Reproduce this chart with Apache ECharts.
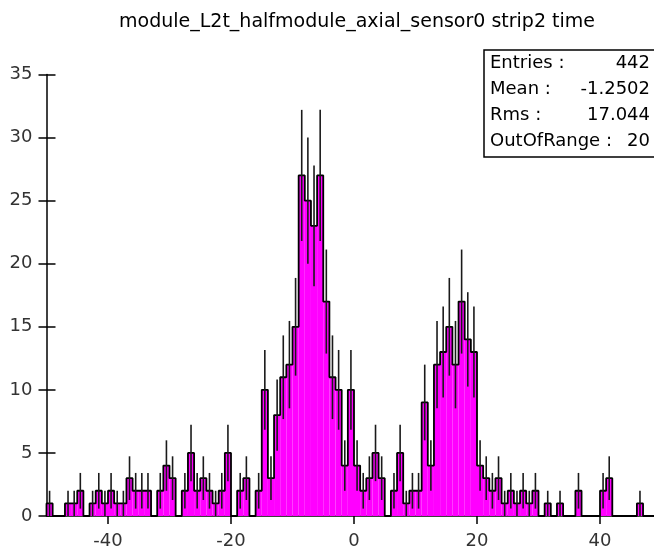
<!DOCTYPE html>
<html><head><meta charset="utf-8">
<script src="https://cdn.jsdelivr.net/npm/echarts@6/dist/echarts.min.js"></script>
<style>html,body{margin:0;padding:0;background:#fff;overflow:hidden;width:654px;height:550px}#c{width:760px;height:550px}</style>
</head><body><div id="c"></div>
<script>
const titleText = 'module_L2t_halfmodule_axial_sensor0 strip2 time';
const binStart = -50;
const binWidth = 1;
const counts = [
  1,0,0,1,1,2,0,1,2,1,
  2,1,1,3,2,2,2,0,2,4,
  3,0,2,5,2,3,2,1,2,5,
  0,2,3,0,2,10,3,8,11,12,
  15,27,25,23,27,17,11,10,4,10,
  4,2,3,5,3,0,2,5,1,2,
  2,9,4,12,13,15,12,17,14,13,
  4,3,2,3,1,2,1,2,1,2,
  0,1,0,1,0,0,2,0,0,0,
  2,3,0,0,0,0,1,0,0,0
];
const xTickValues = [-40, -20, 0, 20, 40];
const xTickLabels = ['-40', '-20', '0', '20', '40'];
const yTickLabels = ['0', '5', '10', '15', '20', '25', '30', '35'];
const statNames = ['Entries :', 'Mean :', 'Rms :', 'OutOfRange :'];
const statValues = ['442', '-1.2502', '17.044', '20'];

const FONT = '"DejaVu Sans", sans-serif';

const bars = counts.map((c, i) => [binStart + i * binWidth, binStart + (i + 1) * binWidth, c]);
const outline = [[binStart, 0]];
counts.forEach((c, i) => {
  outline.push([binStart + i * binWidth, c]);
  outline.push([binStart + (i + 1) * binWidth, c]);
});
outline.push([binStart + counts.length * binWidth, 0]);
const errs = [];
counts.forEach((c, i) => {
  if (c > 0) {
    const s = Math.sqrt(c);
    errs.push([binStart + (i + 0.5) * binWidth, c - s, c + s]);
  }
});

const chart = echarts.init(document.getElementById('c'), null, {renderer: 'canvas'});
const axisColor = '#000';
const statGraphics = [{
  type: 'rect', x: 484, y: 50, z: 100,
  shape: {x: 0, y: 0, width: 180, height: 107},
  style: {fill: '#fff', stroke: '#000', lineWidth: 1.5}
}];
statNames.forEach((n, i) => {
  statGraphics.push({type: 'text', x: 490, y: 63 + i * 26, z: 101,
    style: {text: n, font: '18px ' + FONT, fill: '#000', textAlign: 'left', textVerticalAlign: 'middle'}});
  statGraphics.push({type: 'text', x: 650, y: 63 + i * 26, z: 101,
    style: {text: statValues[i], font: '18px ' + FONT, fill: '#000', textAlign: 'right', textVerticalAlign: 'middle'}});
});

chart.setOption({
  animation: false,
  backgroundColor: '#fff',
  title: {
    text: titleText, left: 352, top: 8, textAlign: 'center',
    textStyle: {fontFamily: FONT, fontSize: 19, fontWeight: 'normal', color: '#000'}
  },
  grid: [
    {left: 46.5, width: 615, top: 74.5, bottom: 34},
    {left: 108, width: 615, top: 74.5, bottom: 34}
  ],
  xAxis: [
    {type: 'value', gridIndex: 0, min: binStart, max: binStart + counts.length * binWidth,
      axisLine: {show: true, onZero: false, lineStyle: {color: axisColor, width: 1.5}},
      axisTick: {show: false}, axisLabel: {show: false}, splitLine: {show: false}},
    {type: 'value', gridIndex: 1, min: xTickValues[0], max: xTickValues[0] + counts.length * binWidth, interval: 20,
      axisLine: {show: false, onZero: false},
      axisTick: {show: true, length: 8, lineStyle: {color: axisColor, width: 1.5}},
      axisLabel: {fontFamily: FONT, fontSize: 18, color: '#333', margin: 16,
        formatter: v => { const k = xTickValues.indexOf(v); return k >= 0 ? xTickLabels[k] : ''; }},
      splitLine: {show: false}}
  ],
  yAxis: [
    {type: 'value', gridIndex: 0, min: 0, max: 35, interval: 5,
      axisLine: {show: true, onZero: false, lineStyle: {color: axisColor, width: 1.5}},
      axisTick: {show: true, length: 8, lineStyle: {color: axisColor, width: 1.5}},
      axisLabel: {fontFamily: FONT, fontSize: 18, color: '#333', margin: 14,
        formatter: v => yTickLabels[Math.round(v / 5)]},
      splitLine: {show: false}},
    {type: 'value', gridIndex: 0, min: 0, max: 35, interval: 5, position: 'left',
      axisLine: {show: false, onZero: false},
      axisTick: {show: true, inside: true, length: 9, lineStyle: {color: axisColor, width: 1.5}},
      axisLabel: {show: false}, splitLine: {show: false}},
    {type: 'value', gridIndex: 1, min: 0, max: 35, show: false}
  ],
  graphic: statGraphics,
  series: [
    {
      type: 'custom', xAxisIndex: 0, yAxisIndex: 0, data: bars, z: 2,
      encode: {x: [0, 1], y: 2},
      renderItem: (params, api) => {
        const v = api.value(2);
        if (!v) return null;
        const p0 = api.coord([api.value(0), v]);
        const p1 = api.coord([api.value(1), 0]);
        return {type: 'rect', shape: {x: p0[0], y: p0[1], width: p1[0] - p0[0], height: p1[1] - p0[1]},
          style: {fill: '#ff00ff'}};
      }
    },
    {
      type: 'line', xAxisIndex: 0, yAxisIndex: 0, data: outline, z: 3,
      showSymbol: false, symbol: 'none',
      lineStyle: {color: '#000', width: 1.8}
    },
    {
      type: 'custom', xAxisIndex: 0, yAxisIndex: 0, data: errs, z: 4,
      encode: {x: 0, y: [1, 2]},
      renderItem: (params, api) => {
        const a = api.coord([api.value(0), api.value(1)]);
        const b = api.coord([api.value(0), api.value(2)]);
        return {type: 'line', shape: {x1: a[0], y1: a[1], x2: b[0], y2: b[1]},
          style: {stroke: '#1a1a1a', lineWidth: 1.6}};
      }
    }
  ]
});
</script>
</body></html>
